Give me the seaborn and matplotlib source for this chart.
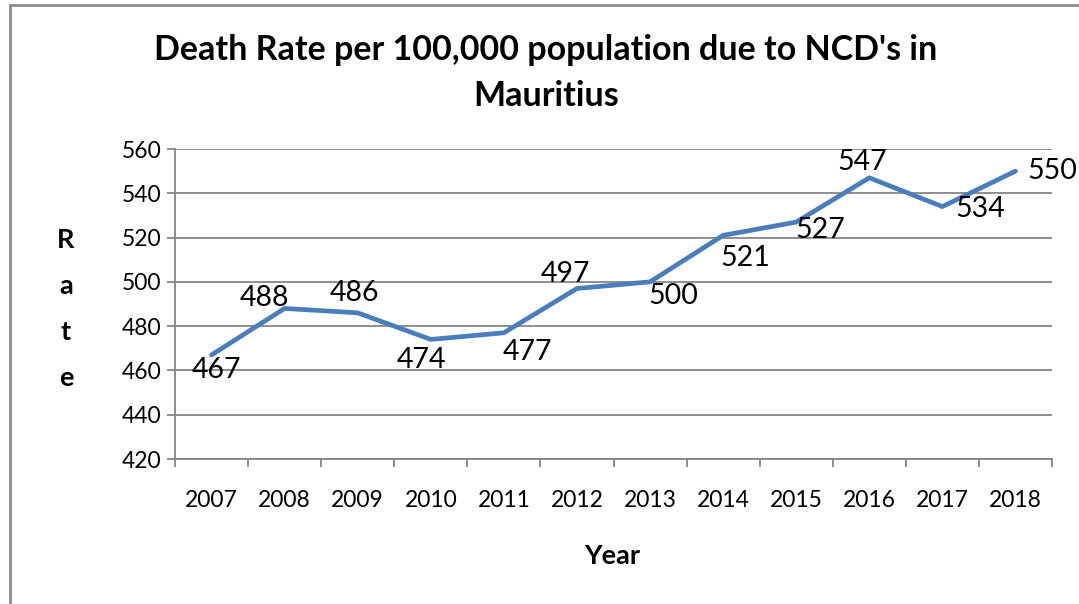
import pandas as pd
import matplotlib.pyplot as plt
import seaborn as sns
from matplotlib.lines import Line2D

years = ["2007", "2008", "2009", "2010", "2011", "2012",
         "2013", "2014", "2015", "2016", "2017", "2018"]
rates = [467, 488, 486, 474, 477, 497, 500, 521, 527, 547, 534, 550]
y_ticks = [420, 440, 460, 480, 500, 520, 540, 560]

# label offsets in pixels, Excel-style placement
label_offsets = [(5, -15), (-20, 10), (-3, 20), (-9, -21), (24, -19), (-12, 15),
                 (23, -14), (22, -23), (24, -8), (-7, 16), (38, -2), (37, 0)]

sns.set_theme(style="white")
plt.rcParams["font.family"] = ["Lato", "DejaVu Sans"]
plt.rcParams["text.color"] = "black"
plt.rcParams["xtick.color"] = "black"
plt.rcParams["ytick.color"] = "black"

df = pd.DataFrame({"pos": range(len(years)), "rate": rates})

fig = plt.figure(figsize=(10.79, 6.04), dpi=100)
ax = fig.add_axes([175 / 1079, 1 - 459 / 604, (1052 - 175) / 1079, 310 / 604])

grid_col = "#868686"
for t in y_ticks:
    ax.axhline(t, color=grid_col, lw=1.3, zorder=1)

sns.lineplot(data=df, x="pos", y="rate", color="#4A7EBB", lw=3.4, ax=ax, zorder=3)

for i, (r, off) in enumerate(zip(rates, label_offsets)):
    ax.annotate(str(r), (i, r), xytext=off, textcoords="offset pixels",
                ha="center", va="center", fontsize=20.5, color="black")

ax.set_xlim(-0.5, len(years) - 0.5)
ax.set_ylim(420, 560)
ax.set_yticks(y_ticks)
ax.set_yticklabels([str(t) for t in y_ticks], fontsize=16.5)
ax.set_xticks([i - 0.5 for i in range(len(years) + 1)])
ax.set_xticklabels([])
ax.set_xticks(range(len(years)), minor=True)
ax.set_xticklabels(years, minor=True, fontsize=16.5)
ax.tick_params(axis="x", which="major", direction="out", length=6, color=grid_col, width=1.3, bottom=True)
ax.tick_params(axis="x", which="minor", length=0, pad=22)
ax.tick_params(axis="y", direction="out", length=6, color=grid_col, width=1.3, left=True, pad=4)

for s in ["top", "right"]:
    ax.spines[s].set_visible(False)
for s in ["left", "bottom"]:
    ax.spines[s].set_color(grid_col)
    ax.spines[s].set_linewidth(1.3)

ax.set_xlabel("")
ax.set_ylabel("")

fig.text(546 / 1079, 1 - 50 / 604, "Death Rate per 100,000 population due to NCD's in",
         ha="center", va="center", fontsize=24.5, fontweight="bold")
fig.text(546 / 1079, 1 - 96 / 604, "Mauritius",
         ha="center", va="center", fontsize=24.5, fontweight="bold")
fig.text(612 / 1079, 1 - 556 / 604, "Year", ha="center", va="center", fontsize=19.5, fontweight="bold")
for k, ch in enumerate("Rate"):
    fig.text(66 / 1079, 1 - (240 + k * 46) / 604, ch, ha="center", va="center",
             fontsize=19.5, fontweight="bold")

# outer chart frame
fig.add_artist(Line2D([10 / 1079, 10 / 1079], [0, 1 - 5 / 604], color="#8c8c8c", lw=2))
fig.add_artist(Line2D([10 / 1079, 1], [1 - 5 / 604, 1 - 5 / 604], color="#8c8c8c", lw=2))

fig.savefig("out.png", dpi=100)
